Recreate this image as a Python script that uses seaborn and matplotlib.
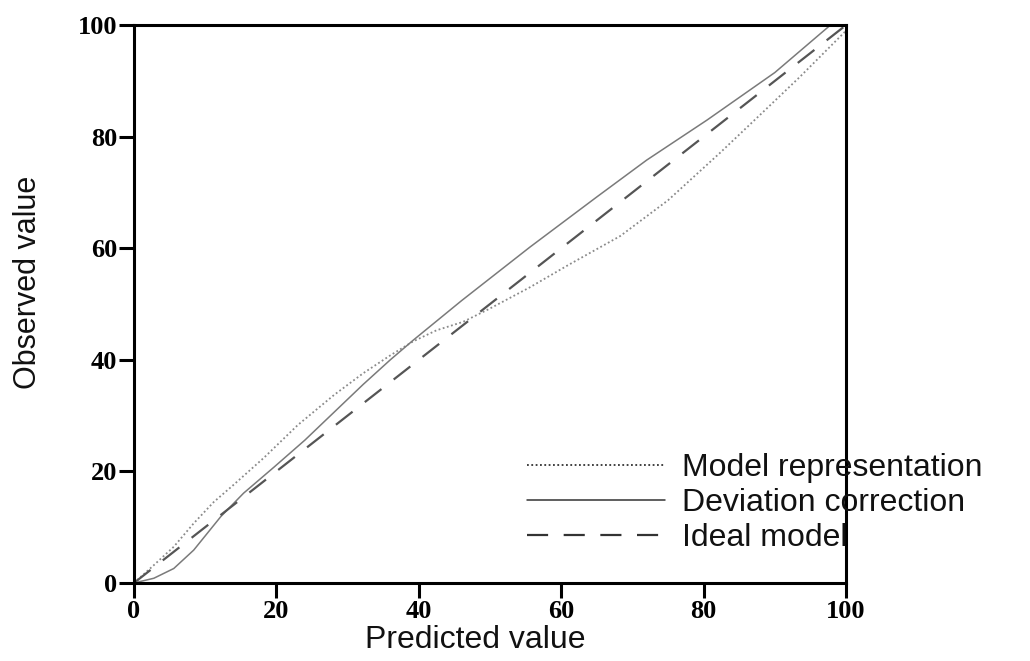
import matplotlib
matplotlib.use("Agg")
import matplotlib.pyplot as plt
import pandas as pd
import seaborn as sns

# values
model_x = [0, 2.8, 5.6, 8.4, 11.2, 14, 18.3, 23, 28.1, 32.2, 36, 39.2, 42.5, 46.2,
           50, 55.6, 61, 68.3, 75, 82.3, 88, 93.5, 100]
model_y = [0, 3.2, 6.5, 10.7, 14.5, 17.6, 22.5, 28.3, 33.7, 37.6, 40.8, 43.3, 45.3, 46.8,
           49.2, 53.0, 57.0, 62.2, 68.6, 77.1, 84.0, 90.7, 99.0]

corr_x = [0, 2.8, 5.6, 8.4, 10.3, 12.2, 15.4, 19.7, 24, 28.1, 32.2, 36, 39.2, 46,
          55.6, 65, 72, 80.5, 90, 97.8, 100]
corr_y = [0, 0.85, 2.6, 5.9, 8.9, 11.9, 16.1, 20.8, 25.6, 30.6, 35.6, 40.0, 43.5, 50.6,
          60.2, 69.2, 75.8, 83.0, 91.5, 100, 102]

ideal_x = [0, 100]
ideal_y = [0, 100]

labels = ["Model representation", "Deviation correction", "Ideal model"]
ticks = [0, 20, 40, 60, 80, 100]


def main():
    sns.set_style("ticks")
    plt.rcParams["font.family"] = ["Liberation Sans", "DejaVu Sans"]

    fig = plt.figure(figsize=(10.3, 6.61), dpi=100)
    ax = fig.add_axes([0.130, 0.118, 0.6914, 0.844])

    df_model = pd.DataFrame({"x": model_x, "y": model_y})
    df_corr = pd.DataFrame({"x": corr_x, "y": corr_y})
    df_ideal = pd.DataFrame({"x": ideal_x, "y": ideal_y})

    sns.lineplot(data=df_model, x="x", y="y", ax=ax, color="#8a8a8a", lw=1.3,
                 linestyle=(0, (1, 1.4)), label=labels[0], errorbar=None)
    sns.lineplot(data=df_corr, x="x", y="y", ax=ax, color="#7a7a7a", lw=1.1,
                 label=labels[1], errorbar=None)
    sns.lineplot(data=df_ideal, x="x", y="y", ax=ax, color="#555555", lw=1.6,
                 linestyle=(0, (9.5, 7)), label=labels[2], errorbar=None)

    ax.set_xlim(0, 100)
    ax.set_ylim(0, 100)
    ax.set_xticks(ticks)
    ax.set_yticks(ticks)
    ax.set_xticklabels([str(t) for t in ticks], family="Liberation Serif",
                       fontweight="bold", fontsize=19, color="black")
    ax.set_yticklabels([str(t) for t in ticks], family="Liberation Serif",
                       fontweight="bold", fontsize=19, color="black")
    ax.tick_params(direction="out", length=11, width=2.2, color="black", pad=1)

    for side in ["left", "right", "top", "bottom"]:
        ax.spines[side].set_visible(True)
        ax.spines[side].set_linewidth(2.2)
        ax.spines[side].set_color("black")

    ax.set_xlabel("Predicted value", fontsize=23, color="#111111")
    ax.set_ylabel("Observed value", fontsize=22, color="#111111")
    ax.xaxis.label.set_va("center")
    ax.yaxis.label.set_va("center")
    ax.xaxis.set_label_coords(0.479, -0.102)
    ax.yaxis.set_label_coords(-0.149, 0.539)

    leg = ax.legend(loc="center left", bbox_to_anchor=(0.512, 0.239),
                    bbox_transform=fig.transFigure, frameon=False, fontsize=23,
                    handlelength=4.3, handletextpad=0.55, labelspacing=0.15,
                    borderaxespad=0, borderpad=0)
    for h in leg.get_lines():
        h.set_color("#333333")
    for t in leg.get_texts():
        t.set_color("#111111")

    fig.savefig("out.png", dpi=100)
    plt.close(fig)


if __name__ == "__main__":
    main()
